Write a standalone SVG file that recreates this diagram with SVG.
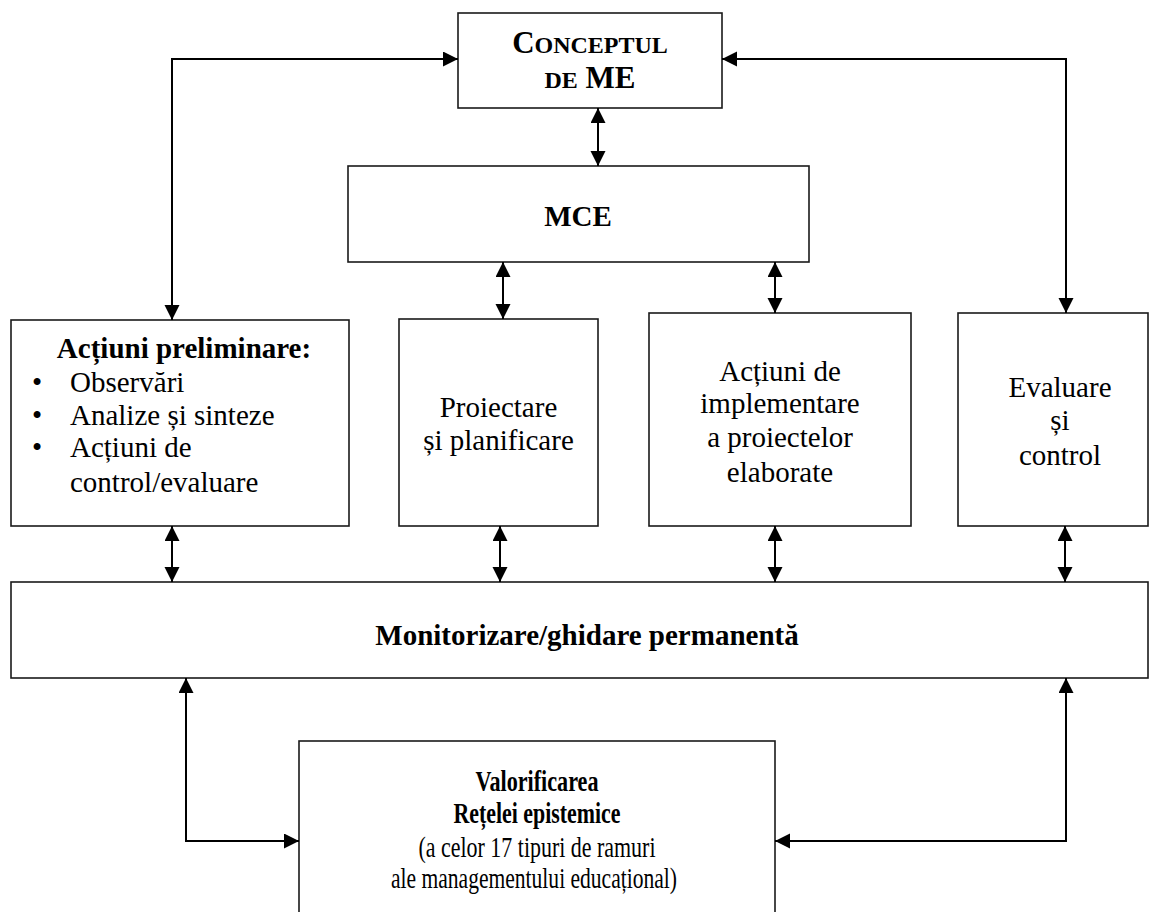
<svg xmlns="http://www.w3.org/2000/svg" width="1150" height="912" viewBox="0 0 1150 912">
<style>
.box{fill:#fff;stroke:#1a1a1a;stroke-width:1.6}
.t{font-family:"Liberation Serif","Times New Roman",serif;font-size:29px;fill:#000}
.c{text-anchor:middle}
.b{font-weight:bold}
.con{fill:none;stroke:#000;stroke-width:2;marker-start:url(#ah);marker-end:url(#ah)}
</style>
<defs>
<marker id="ah" markerUnits="userSpaceOnUse" markerWidth="16" markerHeight="16" refX="15" refY="7.5" orient="auto-start-reverse" viewBox="0 0 16 16">
<path d="M0,0 L15,7.5 L0,15 z" fill="#000"/>
</marker>
</defs>
<rect width="1150" height="912" fill="#fff"/>

<g id="conceptul">
<rect class="box" x="458" y="13" width="264" height="95"/>
<text class="t c b" x="590" y="53"><tspan font-size="31">C</tspan><tspan font-size="24">ONCEPTUL</tspan></text>
<text class="t c b" x="590" y="88"><tspan font-size="24">DE</tspan><tspan font-size="31"> ME</tspan></text>
</g>

<g id="mce">
<rect class="box" x="348" y="166" width="461" height="96"/>
<text class="t c b" x="578" y="226">MCE</text>
</g>

<g id="actiuni-preliminare">
<rect class="box" x="11" y="320" width="338" height="206"/>
<text class="t c b" x="184" y="358">Acțiuni preliminare:</text>
<text class="t" x="32" y="392">•</text>
<text class="t" x="70" y="392">Observări</text>
<text class="t" x="32" y="425">•</text>
<text class="t" x="70" y="425">Analize și sinteze</text>
<text class="t" x="32" y="457">•</text>
<text class="t" x="70" y="457">Acțiuni de</text>
<text class="t" x="70" y="492">control/evaluare</text>
</g>

<g id="proiectare">
<rect class="box" x="399" y="319" width="199" height="207"/>
<text class="t c" x="498.5" y="417">Proiectare</text>
<text class="t c" x="498.5" y="450">și planificare</text>
</g>

<g id="implementare">
<rect class="box" x="649" y="313" width="262" height="213"/>
<text class="t c" x="780" y="381">Acțiuni de</text>
<text class="t c" x="780" y="413">implementare</text>
<text class="t c" x="780" y="447">a proiectelor</text>
<text class="t c" x="780" y="482">elaborate</text>
</g>

<g id="evaluare">
<rect class="box" x="958" y="313" width="190" height="213"/>
<text class="t c" x="1060" y="397">Evaluare</text>
<text class="t c" x="1060" y="430">și</text>
<text class="t c" x="1060" y="465">control</text>
</g>

<g id="monitorizare">
<rect class="box" x="11" y="582" width="1137" height="96"/>
<text class="t c b" x="587" y="645">Monitorizare/ghidare permanentă</text>
</g>

<g id="valorificarea">
<rect class="box" x="299" y="741" width="476" height="200"/>
<text class="t c b" x="537" y="791" font-size="31" textLength="123" lengthAdjust="spacingAndGlyphs">Valorificarea</text>
<text class="t c b" x="537" y="823" font-size="31" textLength="167" lengthAdjust="spacingAndGlyphs">Rețelei epistemice</text>
<text class="t c" x="537" y="857" font-size="31" textLength="237" lengthAdjust="spacingAndGlyphs">(a celor 17 tipuri de ramuri</text>
<text class="t c" x="534" y="888" font-size="31" textLength="286" lengthAdjust="spacingAndGlyphs">ale managementului educațional)</text>
</g>

<g id="connectors">
<path class="con" d="M458,59 H172 V320"/>
<path class="con" d="M722,59 H1066 V313"/>
<path class="con" d="M598,108 V166"/>
<path class="con" d="M503,262 V319"/>
<path class="con" d="M775,262 V313"/>
<path class="con" d="M172,526 V582"/>
<path class="con" d="M500,526 V582"/>
<path class="con" d="M775,526 V582"/>
<path class="con" d="M1065,526 V582"/>
<path class="con" d="M186,678 V841 H299"/>
<path class="con" d="M1066,678 V841 H775"/>
</g>
</svg>
